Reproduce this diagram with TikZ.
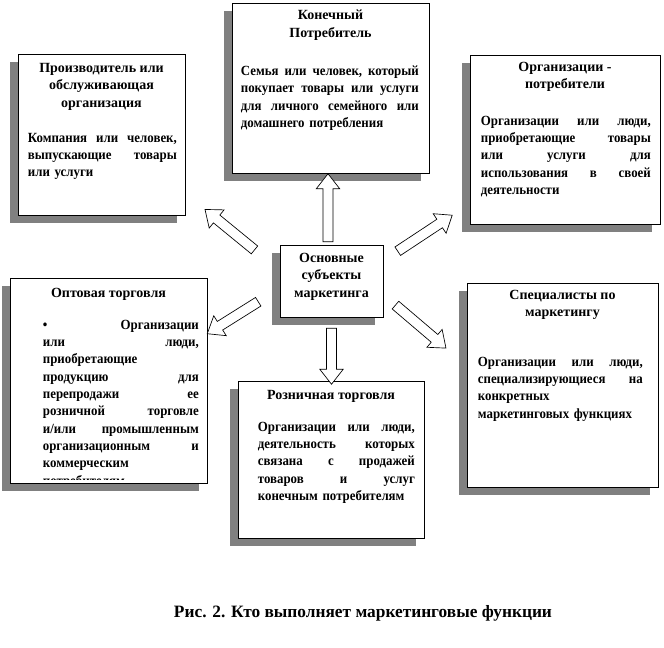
\documentclass[tikz,border=0pt]{standalone}
\usepackage{fontspec}
\setmainfont{Liberation Serif}
\newfontfamily\bodyfamily{Liberation Serif}[FakeStretch=0.92]
\usepackage{tikz}
\usetikzlibrary{arrows.meta,positioning,shapes.arrows,fit,calc,shadows}
\usepackage{xcolor}
\definecolor{shadowgray}{RGB}{128,128,128}
\newcommand{\cardfont}{\fontsize{10.5pt}{13.2pt}\selectfont\bfseries}
\newcommand{\cardbodyfont}{\bodyfamily\fontsize{10.5pt}{13pt}\selectfont\bfseries}
\tikzset{
  card/.style={draw, line width=0.6pt, fill=white, inner sep=0pt,
               drop shadow={shadow xshift=-6pt, shadow yshift=-6pt, fill=shadowgray, opacity=1}},
  cardtitle/.style={align=center, inner sep=0pt, font=\cardfont, anchor=north},
  cardtext/.style={align=left, inner sep=0pt, font=\cardbodyfont, anchor=north west},
  fatarrow/.style={single arrow, draw, fill=white, line width=0.5pt,
                   inner xsep=0pt, inner ysep=3.55pt,
                   single arrow head extend=5pt, single arrow tip angle=76},
}
% block arrow from one named point to another
\newcommand{\fatconnect}[2]{%
  \path let \p1=($(#2)-(#1)$), \n1={atan2(\y1,\x1)}, \n2={veclen(\x1,\y1)} in
    node[fatarrow, rotate=\n1, minimum height=\n2] at ($(#1)!0.5!(#2)$) {};}

\begin{document}
\begin{tikzpicture}[x=0.75pt, y=-0.75pt]
\useasboundingbox (0,0) rectangle (664,648);

% boxes
\node[card, fit={(18,54) (185,215)}] (prod) {};
\node[card, fit={(232,3) (429,173)}] (cons) {};
\node[card, fit={(470,55) (660,224)}] (orgc) {};
\node[card, fit={(10,278) (207,483)}] (whole) {};
\node[card, fit={(238,381) (424,538)}] (retail) {};
\node[card, fit={(467,283) (658,487)}] (spec) {};
\node[card, fit={(280,245) (383,317)}] (hub) {};

% texts
\node[cardtitle] (prodT) at ($(prod.north)+(0,9)$) {Производитель или\\обслуживающая\\организация};
\node[cardtext, text width=111.75pt] (prodB) at ($(prod.north west)+(10,79)$)
  {Компания\hfill или\hfill человек,\\выпускающие\hfill товары\\или услуги};

\node[cardtitle] (consT) at ($(cons.north)+(0,7)$) {Конечный\\Потребитель};
\node[cardtext, text width=133.5pt] (consB) at ($(cons.north west)+(9,63)$)
  {Семья\hfill или\hfill человек,\hfill который\\покупает\hfill товары\hfill или\hfill услуги\\для\hfill личного\hfill семейного\hfill или\\домашнего потребления};

\node[cardtitle] (orgcT) at ($(orgc.north)+(0,7)$) {Организации -\\потребители};
\node[cardtext, text width=127.5pt] (orgcB) at ($(orgc.north west)+(11,61)$)
  {Организации\hfill или\hfill люди,\\приобретающие\hfill товары\\или\hfill услуги\hfill для\\использования\hfill в\hfill своей\\деятельности};

\node[cardtitle] (wholeT) at ($(whole.north)+(0,10)$) {Оптовая торговля};
\begin{scope}
  \clip (whole.north west) rectangle ($(whole.south east)+(0,-4)$);
  \node[cardtext, text width=117pt] (wholeB) at ($(whole.north west)+(33,42)$)
    {\textbullet\hfill Организации\\или\hfill люди,\\приобретающие\\продукцию\hfill для\\перепродажи\hfill ее\\розничной\hfill торговле\\и/или\hfill промышленным\\организационным\hfill и\\коммерческим\\потребителям};
\end{scope}

\node[cardtitle] (retailT) at ($(retail.north)+(0,9)$) {Розничная торговля};
\node[cardtext, text width=117.75pt] (retailB) at ($(retail.north west)+(20,41)$)
  {Организации\hfill или\hfill люди,\\деятельность\hfill которых\\связана\hfill с\hfill продажей\\товаров\hfill и\hfill услуг\\конечным потребителям};

\node[cardtitle] (specT) at ($(spec.north)+(0,7)$) {Специалисты по\\маркетингу};
\node[cardtext, text width=123.75pt] (specB) at ($(spec.north west)+(11,74)$)
  {Организации\hfill или\hfill люди,\\специализирующиеся\hfill на\\конкретных\\маркетинговых функциях};

\node[cardtitle] (hubT) at ($(hub.north)+(0,8)$) {Основные\\субъекты\\маркетинга};

% arrow ends
\coordinate (upA) at (328,245);   \coordinate (upB) at (328,177);
\coordinate (dnA) at (331.5,325); \coordinate (dnB) at (331.5,381);
\coordinate (ulA) at (257,252);   \coordinate (ulB) at (207.5,211.5);
\coordinate (urA) at (395,253);   \coordinate (urB) at (449.5,217);
\coordinate (llA) at (261,300);   \coordinate (llB) at (210,332);
\coordinate (lrA) at (393,303);   \coordinate (lrB) at (443.5,346);
\foreach \a/\b in {upA/upB, dnA/dnB, ulA/ulB, urA/urB, llA/llB, lrA/lrB}
  {\fatconnect{\a}{\b}}

\node[font=\fontsize{13pt}{15pt}\selectfont\bfseries] (caption) at (363,613)
  {Рис. 2. Кто выполняет маркетинговые функции};
\end{tikzpicture}
\end{document}
